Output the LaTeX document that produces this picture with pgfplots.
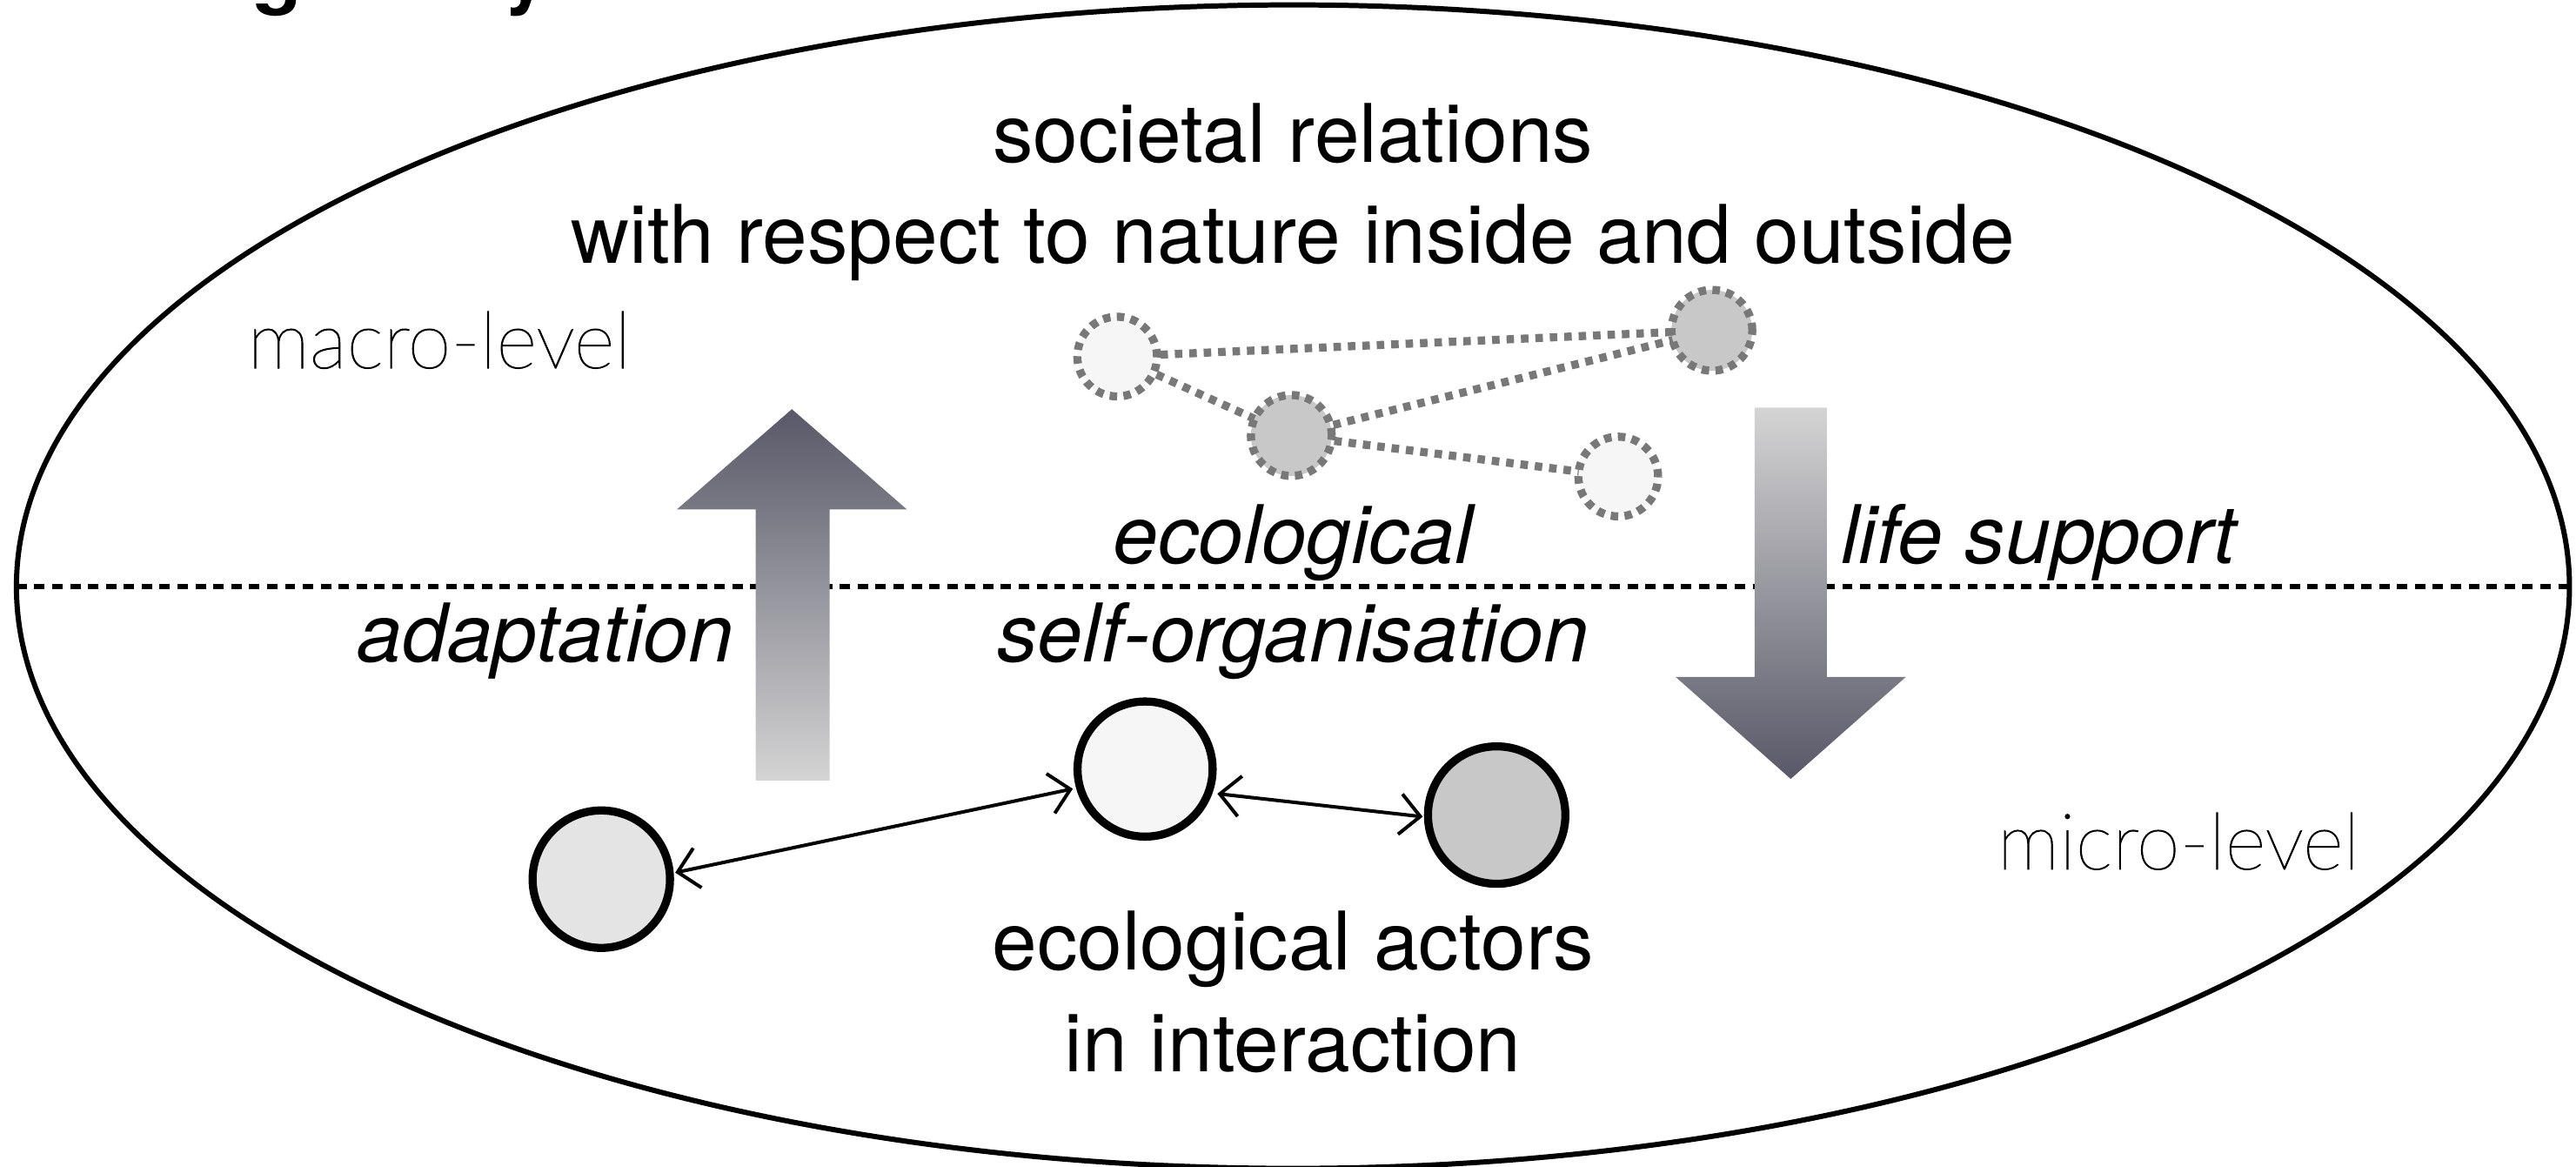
\documentclass[border=0pt]{standalone}
\usepackage{pgfplots}
\pgfplotsset{compat=1.18}
\usepackage{fontspec}
\setmainfont{TeX Gyre Heros}
\newfontfamily\thinfont{Lato Hairline}[FakeBold=1.2]
\usetikzlibrary{arrows.meta}
\definecolor{arrdark}{RGB}{88,88,104}
\definecolor{arrlight}{RGB}{212,212,212}
\definecolor{dotgray}{RGB}{120,120,120}
\definecolor{fillA}{RGB}{246,246,246}
\definecolor{fillB}{RGB}{200,200,200}
\definecolor{fillL}{RGB}{228,228,228}
\begin{document}
\begin{tikzpicture}
\begin{axis}[scale only axis, width=15.68cm, height=7.10cm,
  xmin=0, xmax=1568, ymin=0, ymax=710, y dir=reverse,
  axis lines=none, ticks=none, clip=false]
\coordinate (bb1) at (axis cs:0,710);
\coordinate (bb2) at (axis cs:1568,0);
% big ellipse
\draw[line width=0.9pt] (axis cs:787,357) ellipse [x radius=7.77cm, y radius=3.54cm];
% dashed divider
\addplot[black, line width=0.8pt, dash pattern=on 1.8pt off 1.3pt] coordinates {(10,357) (1564,357)};
% title fragment (only the descenders show in the reference)
\node[anchor=base west, inner sep=0pt, font=\fontsize{14}{16}\selectfont\bfseries] at (axis cs:19,-1) {Ecological systems};
% gradient arrows
\addplot[draw=none, top color=arrdark, bottom color=arrlight] coordinates {(460,475) (505,475) (505,310) (552,310) (482,249) (412,310) (460,310)} -- cycle;
\addplot[draw=none, top color=arrlight, bottom color=arrdark] coordinates {(1068,248) (1112,248) (1112,412) (1160,412) (1090,474) (1020,412) (1068,412)} -- cycle;
% dotted network (macro level)
\addplot[dotgray, line width=1.4pt, dash pattern=on 1.3pt off 1.2pt] coordinates {(680,217) (1042,201)};
\addplot[dotgray, line width=1.4pt, dash pattern=on 1.3pt off 1.2pt] coordinates {(680,217) (786,265)};
\addplot[dotgray, line width=1.4pt, dash pattern=on 1.3pt off 1.2pt] coordinates {(786,265) (1042,201)};
\addplot[dotgray, line width=1.4pt, dash pattern=on 1.3pt off 1.2pt] coordinates {(786,265) (985,290)};
\addplot[only marks, mark=*, mark size=6.9pt, mark options={fill=fillA, draw=dotgray, line width=1.4pt, dash pattern=on 1.3pt off 1.1pt}] coordinates {(680,217) (985,290)};
\addplot[only marks, mark=*, mark size=7.0pt, mark options={fill=fillB, draw=dotgray, line width=1.4pt, dash pattern=on 1.3pt off 1.1pt}] coordinates {(786,265) (1042,201)};
% actors (micro level)
\addplot[black, line width=0.6pt, {Straight Barb[length=3.5pt, width=7pt]}-{Straight Barb[length=3.5pt, width=7pt]}] coordinates {(411,531) (653,480)};
\addplot[black, line width=0.6pt, {Straight Barb[length=3.5pt, width=7pt]}-{Straight Barb[length=3.5pt, width=7pt]}] coordinates {(741,483) (866,497)};
\addplot[only marks, mark=*, mark size=11.9pt, mark options={fill=fillL, draw=black, line width=1.4pt}] coordinates {(366,535)};
\addplot[only marks, mark=*, mark size=11.7pt, mark options={fill=fillA, draw=black, line width=1.4pt}] coordinates {(697,468)};
\addplot[only marks, mark=*, mark size=11.9pt, mark options={fill=fillB, draw=black, line width=1.4pt}] coordinates {(911,496)};
% texts
\node[anchor=base, font=\fontsize{14}{16}\selectfont] at (axis cs:787,99) {societal relations};
\node[anchor=base, font=\fontsize{14}{16}\selectfont] at (axis cs:787,160) {with respect to nature inside and outside};
\node[anchor=base west, inner sep=0pt, font=\fontsize{13.6}{16}\selectfont\thinfont] at (axis cs:150,224) {macro-level};
\node[anchor=base west, inner sep=0pt, font=\fontsize{13.6}{16}\selectfont\thinfont] at (axis cs:1215,529) {micro-level};
\node[anchor=base, font=\fontsize{14}{16}\selectfont\itshape] at (axis cs:787,343) {ecological};
\node[anchor=base, font=\fontsize{14}{16}\selectfont\itshape] at (axis cs:787,403) {self-organisation};
\node[anchor=base, font=\fontsize{14}{16}\selectfont\itshape] at (axis cs:332,403) {adaptation};
\node[anchor=base, font=\fontsize{14}{16}\selectfont\itshape] at (axis cs:1241,343) {life support};
\node[anchor=base, font=\fontsize{14}{16}\selectfont] at (axis cs:787,590) {ecological actors};
\node[anchor=base, font=\fontsize{14}{16}\selectfont] at (axis cs:787,652) {in interaction};
\end{axis}
\pgfresetboundingbox
\useasboundingbox (bb1) rectangle (bb2);
\end{tikzpicture}
\end{document}
